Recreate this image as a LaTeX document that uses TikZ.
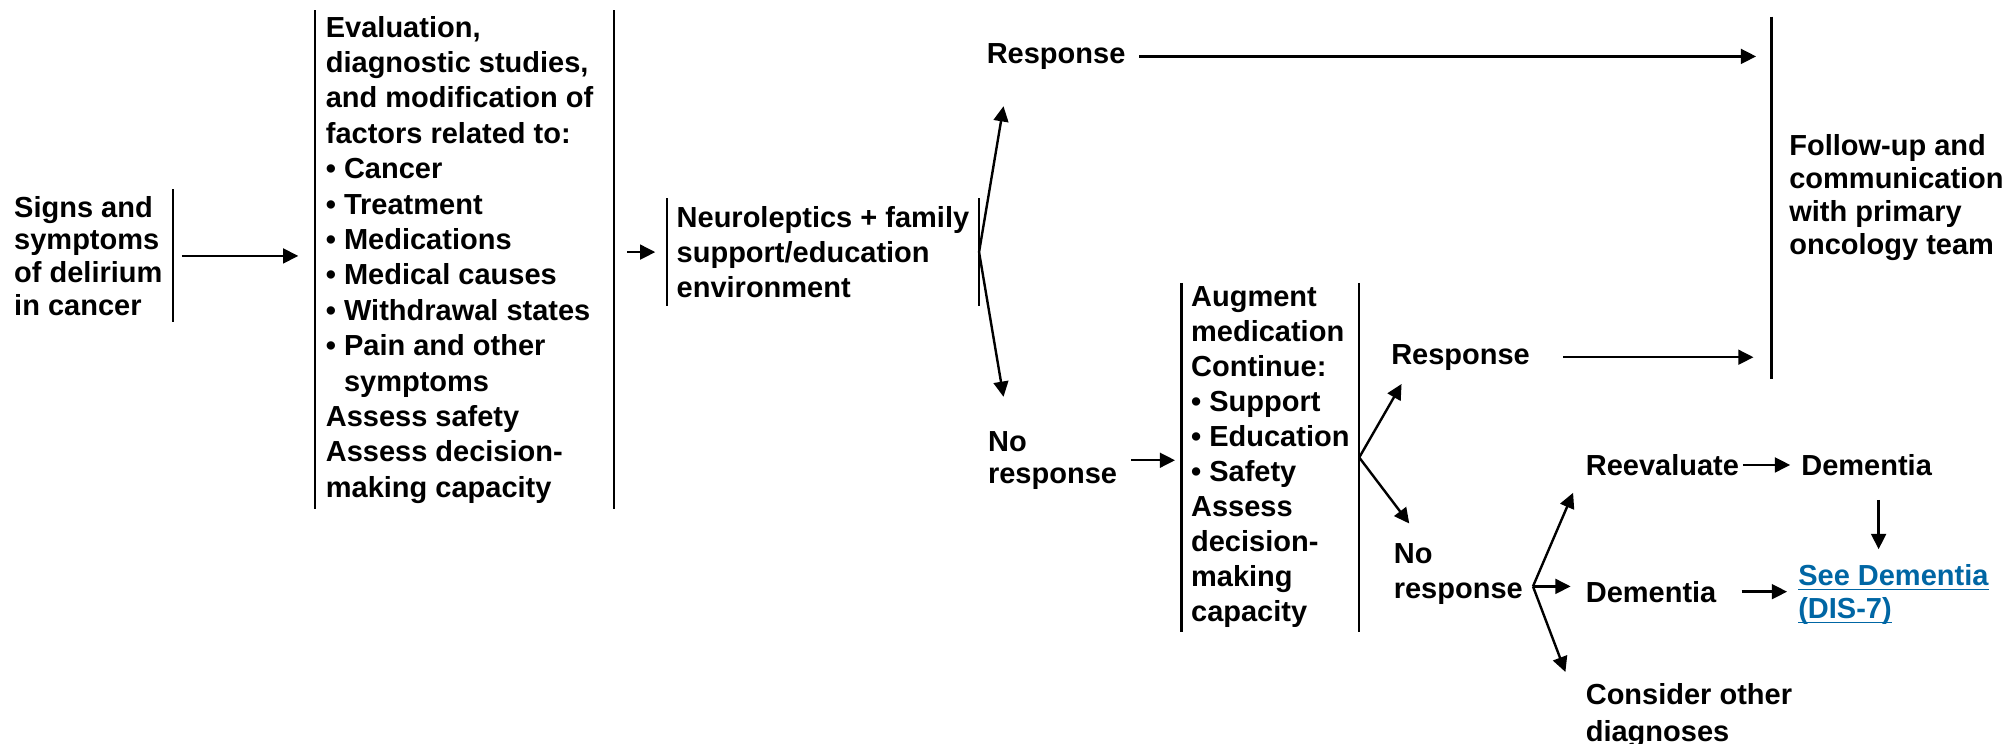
\documentclass[tikz,border=0pt]{standalone}
\usepackage{fontspec}
\setmainfont{Liberation Sans}
\usetikzlibrary{arrows.meta}
\usetikzlibrary{positioning}
\definecolor{linkblue}{RGB}{0,102,164}
\newsavebox{\ulbox}
\newcommand{\ulink}[1]{\sbox{\ulbox}{#1}\usebox{\ulbox}\llap{\rule[-2.4pt]{\wd\ulbox}{0.8pt}}}

\begin{document}
\begin{tikzpicture} [x=0.64pt,y=-0.64pt,line width=1.2pt,>={Triangle[length=7.6pt,width=7.4pt]},
  every node/.style={font=\fontsize{14.5}{17.5}\selectfont\bfseries,align=left,inner sep=0pt,anchor=north west},
  spread/.style={font=\fontsize{14.5}{#1}\selectfont\bfseries}]
\useasboundingbox (0,0) rectangle (1568,581);

% boxes
\node (signs) [minimum width=83.3pt,minimum height=65.3pt,spread=16.4pt] at (3,148) {Signs and\\symptoms\\of delirium\\in cancer};
\node (evalbox) [minimum width=148.5pt,minimum height=248.3pt,spread=17.7pt] at (246,8) {Evaluation,\\diagnostic studies,\\and modification of\kern5pt\\factors related to:\\\textbullet\ Cancer\\\textbullet\ Treatment\\\textbullet\ Medications\\\textbullet\ Medical causes\\\textbullet\ Withdrawal states\kern5pt\\\textbullet\ Pain and other\\\hphantom{\textbullet\ }symptoms\\Assess safety\\Assess decision-\\making capacity};
\node (neuro) [minimum width=154.9pt,minimum height=52.5pt] at (521,155) {Neuroleptics + family\\support/education\\environment};
\node (augment) [minimum width=87.7pt,minimum height=173.4pt] at (923,221) {Augment\\medication\\Continue:\\\textbullet\ Support\\\textbullet\ Education\\\textbullet\ Safety\\Assess\\decision-\\making\\capacity};
\node (followup) [minimum width=123.8pt,minimum height=179.8pt,spread=16.4pt] at (1384,13) {Follow-up and\\communication\\with primary\\oncology team};

% outcomes
\node (resp1) at (770,33) {Response};
\node (noresp1) [spread=16pt] at (771,336) {No\\response};
\node (resp2) at (1086,268) {Response};
\node (noresp2) at (1088,424) {No\\response};
\node (reeval) at (1238,354) {Reevaluate};
\node (dem1) [right=30pt of reeval] {Dementia};
\node (dem2) at (1238,453) {Dementia};
\node (seedem) [text=linkblue,spread=16.6pt] at (1404,440) {\ulink{See Dementia}\\\ulink{(DIS-7)}};
\node (other) [spread=18.3pt] at (1238,533) {Consider other\\diagnoses};

\coordinate (up1) at (784,83);
\coordinate (dn1) at (784,310);
\coordinate (up2) at (1095,300);
\coordinate (dn2) at (1101,409);
\coordinate (fork3) at ([xshift=4.5pt,yshift=-6pt]noresp2.east);
\coordinate (up3) at (1229,385);
\coordinate (dn3) at (1223,525);
\coordinate (d1) at ([xshift=6pt]dem1.south);

% bars
\draw(signs.north east)--(signs.south east);
\draw(evalbox.north west)--(evalbox.south west);
\draw(evalbox.north east)--(evalbox.south east);
\draw(neuro.north west)--(neuro.south west);
\draw(neuro.north east)--(neuro.south east);
\draw(augment.north west)--(augment.south west);
\draw(augment.north east)--(augment.south east);
\draw(followup.north west)--(followup.south west);

% arrows
\draw[->,shorten <=4.5pt,shorten >=8.3pt](signs.east)--(signs.east -| evalbox.west);
\draw[->,shorten <=6.4pt,shorten >=5.8pt](evalbox.east |- neuro.west)--(neuro.west);
\draw[->](neuro.east)--(up1);
\draw[->](neuro.east)--(dn1);
\draw[->,shorten <=6.4pt,shorten >=7.7pt](resp1.east)--(resp1.east -| followup.west);
\draw[->,shorten <=6.4pt,shorten >=3.2pt](noresp1.east)--(noresp1.east -| augment.west);
\draw[->](augment.east)--(up2);
\draw[->](augment.east)--(dn2);
\draw[->,shorten <=16pt,shorten >=9pt](resp2.east)--(resp2.east -| followup.west);
\draw[->](fork3)--(up3);
\draw[->,shorten >=7pt](fork3)--(fork3 -| dem2.west);
\draw[->](fork3)--(dn3);
\draw[->,shorten <=1.3pt,shorten >=5pt](reeval)--(dem1);
\draw[->,shorten <=11.5pt,shorten >=7pt](d1)--(d1 |- seedem.north);
\draw[->,shorten <=12pt,shorten >=5pt](dem2.east)--(dem2.east -| seedem.west);
\end{tikzpicture}
\end{document}
